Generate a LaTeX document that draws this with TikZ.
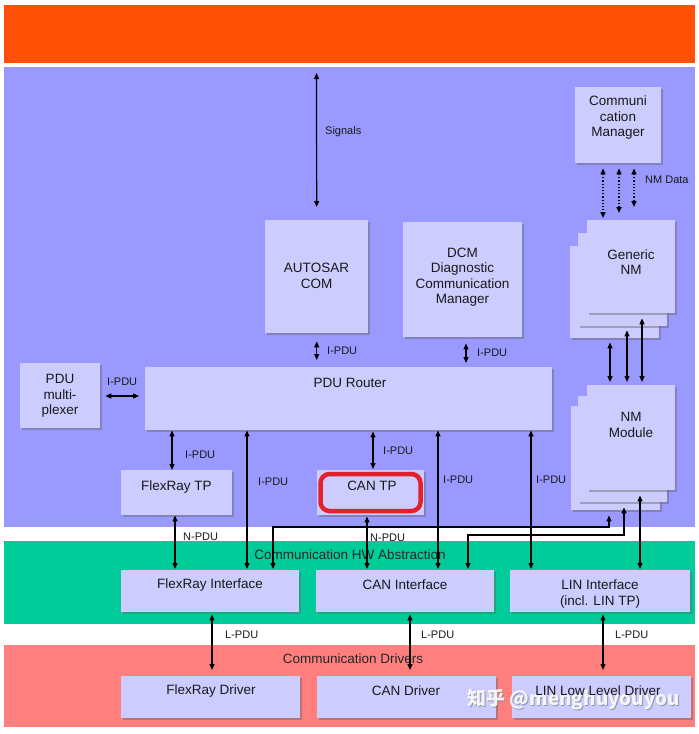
\documentclass[tikz,border=0pt]{standalone}
\usepackage{fontspec}
\setmainfont{Liberation Sans}
\newfontfamily\cjk{Noto Sans CJK SC}
\usetikzlibrary{shadows,arrows.meta,calc}
\definecolor{orangeband}{HTML}{FF5005}
\definecolor{purpleband}{HTML}{9999FF}
\definecolor{greenband}{HTML}{00CC99}
\definecolor{pinkband}{HTML}{FF7F7F}
\definecolor{boxfill}{HTML}{CCCCFF}
\definecolor{hilite}{HTML}{E3202B}
\begin{document}
\begin{tikzpicture}[x=1pt,y=-1pt,
 box/.style={fill=boxfill, draw=none, anchor=north west, inner sep=0pt,
   drop shadow={shadow xshift=2pt,shadow yshift=-2pt,fill=black!60,opacity=.45}},
 txt/.style={font=\fontsize{13.5}{15.5}\selectfont, align=center, text=black!90, inner sep=0pt},
 small/.style={font=\fontsize{11}{13}\selectfont, text=black!90, inner sep=0pt, anchor=west},
 dbl/.style={{Triangle[length=6pt,width=5pt]}-{Triangle[length=6pt,width=5pt]}, line width=1.2pt},
 dotarr/.style={dbl, dotted, line width=1.6pt},
 wmark/.style={anchor=west, inner sep=0pt, font=\cjk\bfseries\fontsize{19}{21}\selectfont}
]
\useasboundingbox (0,0) rectangle (699,734);
\fill[white] (0,0) rectangle (699,734);
% bands
\fill[orangeband] (4,5) rectangle (695,63);
\fill[purpleband] (4,67) rectangle (695,527);
\fill[greenband] (4,541) rectangle (695,624);
\fill[pinkband] (4,645) rectangle (695,727);
\node[txt, text=black!85] (hwlbl) at (350,555) {Communication HW Abstraction};
\node[txt, text=black!85] (drvlbl) at (353,659) {Communication Drivers};

% boxes
\node[box,minimum width=86pt,minimum height=76pt] (cm) at (575,87) {};
\node[txt] (cmt) at (618,118) {Communi\\cation\\Manager};

\node[box,minimum width=89pt,minimum height=92pt] (gnb) at (570,246) {};
\node[box,minimum width=89pt,minimum height=93pt] (gnm) at (578,233) {};
\node[box,minimum width=88pt,minimum height=93pt] (gnf) at (587,220) {};
\node[txt] (gnt) at (631,262) {Generic\\NM};

\node[box,minimum width=89pt,minimum height=104pt] (nmb) at (571,406) {};
\node[box,minimum width=89pt,minimum height=106pt] (nmm) at (578,396) {};
\node[box,minimum width=88pt,minimum height=105pt] (nmf) at (587,385) {};
\node[txt] (nmt) at (631,425) {NM\\Module};

\node[box,minimum width=103pt,minimum height=113pt] (acom) at (265,220) {};
\node[txt] (acomt) at (316.5,276) {AUTOSAR\\COM};

\node[box,minimum width=119pt,minimum height=115pt] (dcm) at (403,222) {};
\node[txt] (dcmt) at (462.5,277) {DCM\\Diagnostic\\Communication\\Manager};

\node[box,minimum width=407pt,minimum height=63pt] (router) at (145,367) {};
\node[txt] (routert) at (350,383) {PDU Router};

\node[box,minimum width=80pt,minimum height=65pt] (mux) at (20,363) {};
\node[txt] (muxt) at (60,396) {PDU\\multi-\\plexer};

\node[box,minimum width=111pt,minimum height=45pt] (frtp) at (121,470) {};
\node[txt] (frtpt) at (176.5,487) {FlexRay TP};

\node[box,minimum width=107pt,minimum height=45pt] (cantp) at (317,470) {};
\draw[hilite, line width=4.5pt, rounded corners=9pt] (320.5,474) rectangle (420.5,511);
\node[txt] (cantpt) at (372,486) {CAN TP};

\node[box,minimum width=178pt,minimum height=42pt] (fri) at (121,570) {};
\node[txt] (frit) at (210,585) {FlexRay Interface};
\node[box,minimum width=178pt,minimum height=42pt] (cani) at (316,570) {};
\node[txt] (canit) at (405,585) {CAN Interface};
\node[box,minimum width=180pt,minimum height=42pt] (lini) at (510,570) {};
\node[txt] (linit) at (600,594) {LIN Interface\\(incl. LIN TP)};

\node[box,minimum width=179pt,minimum height=42pt] (frd) at (121,676) {};
\node[txt] (frdt) at (211,691) {FlexRay Driver};
\node[box,minimum width=179pt,minimum height=42pt] (cand) at (317,676) {};
\node[txt] (candt) at (406,691) {CAN Driver};
\node[box,minimum width=179pt,minimum height=42pt] (lind) at (512,676) {};

% watermark (under the driver label)
\node[wmark, text=black!55, opacity=.6] (wmshadow) at (468,700.5) {知乎 @menghuyouyou};
\node[wmark, text=white, opacity=.9] (wm) at (467,699.5) {知乎 @menghuyouyou};

\node[txt] (lindt) at (598,691) {LIN Low Level Driver};

% connectors
\coordinate (sigtop) at (316.5,73);
\draw[dbl, shorten >=13pt] (sigtop) -- (acom.north);
\node[small] (sigl) at (325,132) {Signals};

\draw[dbl, shorten <=8pt, shorten >=7pt] (acom.south) -- (acom.south |- router.north);
\node[small] (l1) at (327,351) {I-PDU};
\draw[dbl, shorten <=6pt, shorten >=4pt] (dcm.south -| 466,0) -- (router.north -| 466,0);
\node[small] (l2) at (477,353) {I-PDU};
\draw[dbl, shorten <=5pt, shorten >=6pt] (mux.east |- 0,396) -- (router.west |- 0,396);
\node[small] (l3) at (107,382) {I-PDU};

\draw[dbl] (router.south -| 172,0) -- (frtp.north -| 172,0);
\node[small] (l4) at (185,455) {I-PDU};
\draw[dbl, shorten >=1pt] (router.south -| 247,0) -- (fri.north -| 247,0);
\node[small] (l5) at (258,482) {I-PDU};
\draw[dbl, shorten >=1pt] (frtp.south -| 175,0) -- (fri.north -| 175,0);
\node[small] (l6) at (183,537) {N-PDU};

\draw[dbl, shorten <=1pt, shorten >=1pt] (router.south -| 373,0) -- (cantp.north -| 373,0);
\node[small] (l7) at (383,451) {I-PDU};
\draw[dbl, shorten <=1pt, shorten >=1pt] (cantp.south -| 367,0) -- (cani.north -| 367,0);
\node[small] (l8) at (370,538) {N-PDU};
\draw[dbl, shorten >=1pt] (router.south -| 438,0) -- (cani.north -| 438,0);
\node[small] (l9) at (443,480) {I-PDU};
\draw[dbl, shorten >=1pt] (router.south -| 531,0) -- (lini.north -| 531,0);
\node[small] (l10) at (536,480) {I-PDU};

\draw[dbl, shorten <=5pt, shorten >=1pt] (nmf.south -| 640,0) -- (lini.north -| 640,0);
\draw[dbl, shorten <=1pt, shorten >=5pt] (fri.north -| 273,0) -- (273,527) -- (609,527) -- (nmb.south -| 609,0);
\draw[dbl, shorten <=1pt, shorten >=5pt] (cani.north -| 468,0) -- (468,535) -- (624,535) -- (nmm.south -| 624,0);

\draw[dbl, shorten <=4pt, shorten >=3pt] (gnb.south -| 610,0) -- (nmf.north -| 610,0);
\draw[dbl, shorten <=4pt, shorten >=3pt] (gnm.south -| 627,0) -- (nmf.north -| 627,0);
\draw[dbl, shorten <=5pt, shorten >=3pt] (gnf.south -| 642,0) -- (nmf.north -| 642,0);

\draw[dotarr, shorten <=5pt, shorten >=2pt] (cm.south -| 603,0) -- (gnf.north -| 603,0);
\draw[dotarr, shorten <=5pt, shorten >=7pt] (cm.south -| 619,0) -- (gnf.north -| 619,0);
\draw[dotarr, shorten <=5pt, shorten >=13pt] (cm.south -| 634,0) -- (gnf.north -| 634,0);
\node[small] (l11) at (645,180) {NM Data};

\draw[dbl, shorten <=2pt, shorten >=6pt] (fri.south -| 212,0) -- (frd.north -| 212,0);
\node[small] (l12) at (225,635) {L-PDU};
\draw[dbl, shorten <=2pt, shorten >=6pt] (cani.south -| 410,0) -- (cand.north -| 410,0);
\node[small] (l13) at (421,635) {L-PDU};
\draw[dbl, shorten <=2pt, shorten >=6pt] (lini.south -| 603,0) -- (lind.north -| 603,0);
\node[small] (l14) at (615,635) {L-PDU};
\end{tikzpicture}
\end{document}
